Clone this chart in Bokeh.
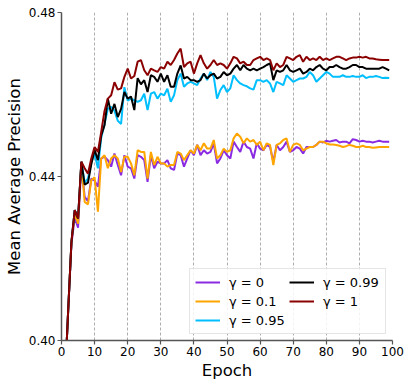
from bokeh.plotting import figure
from bokeh.models import FixedTicker, Legend, LegendItem, Range1d, PrintfTickFormatter
from bokeh.embed import file_html
from bokeh.resources import INLINE

epochs = list(range(1, 100))

gamma_0 = [0.3895, 0.4070, 0.4235, 0.4300, 0.4275, 0.4430, 0.4350, 0.4340, 0.4395, 0.4390,
           0.4375, 0.4444, 0.4448, 0.4440, 0.4424, 0.4456, 0.4428, 0.4403, 0.4452, 0.4424,
           0.4420, 0.4395, 0.4452, 0.4448, 0.4440, 0.4387, 0.4452, 0.4420, 0.4436, 0.4432,
           0.4432, 0.4440, 0.4420, 0.4416, 0.4456, 0.4452, 0.4424, 0.4444, 0.4464, 0.4452,
           0.4477, 0.4452, 0.4464, 0.4456, 0.4460, 0.4481, 0.4432, 0.4444, 0.4464, 0.4452,
           0.4444, 0.4485, 0.4472, 0.4460, 0.4485, 0.4472, 0.4468, 0.4444, 0.4481, 0.4468,
           0.4464, 0.4477, 0.4472, 0.4436, 0.4477, 0.4464, 0.4472, 0.4485, 0.4460, 0.4464,
           0.4472, 0.4468, 0.4456, 0.4472, 0.4472, 0.4472, 0.4477, 0.4485, 0.4483, 0.4487,
           0.4485, 0.4487, 0.4489, 0.4483, 0.4485, 0.4485, 0.4481, 0.4491, 0.4489, 0.4485,
           0.4487, 0.4485, 0.4485, 0.4483, 0.4485, 0.4487, 0.4485, 0.4485, 0.4485]

gamma_01 = [0.3895, 0.4070, 0.4240, 0.4310, 0.4285, 0.4436, 0.4338, 0.4332, 0.4391, 0.4398,
            0.4314, 0.4444, 0.4452, 0.4420, 0.4444, 0.4452, 0.4444, 0.4411, 0.4448, 0.4448,
            0.4432, 0.4403, 0.4464, 0.4460, 0.4460, 0.4395, 0.4460, 0.4428, 0.4448, 0.4432,
            0.4432, 0.4424, 0.4428, 0.4428, 0.4460, 0.4456, 0.4440, 0.4452, 0.4464, 0.4456,
            0.4477, 0.4464, 0.4481, 0.4468, 0.4468, 0.4489, 0.4444, 0.4452, 0.4468, 0.4460,
            0.4464, 0.4493, 0.4505, 0.4497, 0.4481, 0.4493, 0.4485, 0.4489, 0.4477, 0.4485,
            0.4464, 0.4481, 0.4477, 0.4428, 0.4477, 0.4481, 0.4489, 0.4493, 0.4460, 0.4477,
            0.4481, 0.4477, 0.4464, 0.4468, 0.4472, 0.4472, 0.4477, 0.4485, 0.4485, 0.4481,
            0.4478, 0.4478, 0.4477, 0.4475, 0.4472, 0.4474, 0.4477, 0.4475, 0.4472, 0.4472,
            0.4475, 0.4472, 0.4472, 0.4470, 0.4471, 0.4472, 0.4472, 0.4472, 0.4472]

gamma_095 = [0.3895, 0.4070, 0.4240, 0.4318, 0.4298, 0.4436, 0.4385, 0.4395, 0.4435, 0.4455,
             0.4420, 0.4495, 0.4528, 0.4565, 0.4570, 0.4560, 0.4536, 0.4528, 0.4618, 0.4585,
             0.4590, 0.4586, 0.4582, 0.4586, 0.4602, 0.4562, 0.4602, 0.4606, 0.4590, 0.4602,
             0.4598, 0.4614, 0.4582, 0.4598, 0.4635, 0.4651, 0.4619, 0.4627, 0.4631, 0.4627,
             0.4623, 0.4639, 0.4651, 0.4635, 0.4655, 0.4643, 0.4590, 0.4611, 0.4623, 0.4606,
             0.4615, 0.4647, 0.4635, 0.4627, 0.4623, 0.4620, 0.4615, 0.4612, 0.4635, 0.4635,
             0.4631, 0.4635, 0.4627, 0.4606, 0.4631, 0.4627, 0.4623, 0.4647, 0.4639, 0.4631,
             0.4635, 0.4639, 0.4639, 0.4643, 0.4655, 0.4647, 0.4631, 0.4639, 0.4647, 0.4655,
             0.4651, 0.4643, 0.4643, 0.4643, 0.4647, 0.4643, 0.4643, 0.4645, 0.4643, 0.4643,
             0.4647, 0.4640, 0.4643, 0.4643, 0.4645, 0.4643, 0.4640, 0.4641, 0.4640]

gamma_099 = [0.3895, 0.4070, 0.4240, 0.4318, 0.4298, 0.4436, 0.4380, 0.4385, 0.4430, 0.4465,
             0.4440, 0.4500, 0.4525, 0.4590, 0.4553, 0.4577, 0.4545, 0.4565, 0.4606, 0.4590,
             0.4595, 0.4562, 0.4640, 0.4625, 0.4635, 0.4606, 0.4647, 0.4643, 0.4631, 0.4651,
             0.4631, 0.4647, 0.4619, 0.4619, 0.4651, 0.4671, 0.4639, 0.4643, 0.4635, 0.4635,
             0.4631, 0.4635, 0.4651, 0.4639, 0.4647, 0.4651, 0.4639, 0.4643, 0.4655, 0.4647,
             0.4651, 0.4663, 0.4672, 0.4659, 0.4672, 0.4663, 0.4659, 0.4663, 0.4659, 0.4663,
             0.4667, 0.4672, 0.4676, 0.4635, 0.4659, 0.4655, 0.4659, 0.4672, 0.4659, 0.4655,
             0.4659, 0.4663, 0.4651, 0.4655, 0.4663, 0.4659, 0.4667, 0.4672, 0.4663, 0.4659,
             0.4667, 0.4667, 0.4672, 0.4667, 0.4663, 0.4663, 0.4667, 0.4672, 0.4672, 0.4667,
             0.4667, 0.4663, 0.4663, 0.4663, 0.4663, 0.4663, 0.4667, 0.4663, 0.4659]

gamma_1 = [0.3895, 0.4070, 0.4240, 0.4318, 0.4298, 0.4436, 0.4420, 0.4407, 0.4444, 0.4472,
           0.4460, 0.4509, 0.4560, 0.4590, 0.4598, 0.4630, 0.4612, 0.4615, 0.4643, 0.4663,
           0.4639, 0.4645, 0.4680, 0.4684, 0.4659, 0.4647, 0.4663, 0.4659, 0.4655, 0.4667,
           0.4663, 0.4680, 0.4672, 0.4684, 0.4700, 0.4712, 0.4667, 0.4676, 0.4680, 0.4651,
           0.4676, 0.4696, 0.4676, 0.4663, 0.4672, 0.4684, 0.4672, 0.4676, 0.4672, 0.4663,
           0.4676, 0.4692, 0.4688, 0.4676, 0.4680, 0.4672, 0.4672, 0.4684, 0.4688, 0.4692,
           0.4684, 0.4688, 0.4684, 0.4659, 0.4676, 0.4667, 0.4672, 0.4692, 0.4688, 0.4684,
           0.4692, 0.4696, 0.4680, 0.4692, 0.4684, 0.4688, 0.4684, 0.4692, 0.4684, 0.4688,
           0.4684, 0.4688, 0.4692, 0.4692, 0.4688, 0.4684, 0.4688, 0.4690, 0.4690, 0.4692,
           0.4690, 0.4692, 0.4688, 0.4688, 0.4686, 0.4685, 0.4684, 0.4684, 0.4684]

labels = ["γ = 0", "γ = 0.1", "γ = 0.95", "γ = 0.99", "γ = 1"]
colors = ["#8A2BE2", "#FFA500", "#00BFFF", "#000000", "#8B0000"]
series = [gamma_0, gamma_01, gamma_095, gamma_099, gamma_1]

x_ticks = list(range(0, 101, 10))
y_ticks = [0.40, 0.44, 0.48]

FONT = "DejaVu Sans"

p = figure(frame_width=331, frame_height=328, output_backend="svg", toolbar_location=None,
           x_range=Range1d(0, 100), y_range=Range1d(0.40, 0.48),
           min_border_left=61, min_border_right=12, min_border_top=12, min_border_bottom=41)
p.outline_line_color = None
p.background_fill_color = "white"
p.border_fill_color = "white"

items = []
for ys, lab, col in zip(series, labels, colors):
    r = p.line(epochs, ys, line_color=col, line_width=2)
    items.append(LegendItem(label=lab, renderers=[r]))

for ax in (p.xaxis[0], p.yaxis[0]):
    ax.axis_line_color = "#555555"
    ax.axis_line_width = 1.5
    ax.major_tick_line_color = "#555555"
    ax.major_tick_line_width = 1.2
    ax.major_tick_out = 4
    ax.major_tick_in = 0
    ax.minor_tick_line_color = None
    ax.major_label_text_font = FONT
    ax.major_label_text_font_size = "12px"
    ax.major_label_text_color = "black"
    ax.axis_label_text_font = FONT
    ax.axis_label_text_font_size = "16.5px"
    ax.axis_label_text_font_style = "normal"
    ax.axis_label_text_color = "black"

p.xaxis.ticker = FixedTicker(ticks=x_ticks)
p.yaxis.ticker = FixedTicker(ticks=y_ticks)
p.yaxis.formatter = PrintfTickFormatter(format="%.2f")
p.xaxis.axis_label = "Epoch"
p.yaxis.axis_label = "Mean Average Precision"
p.xaxis.major_label_standoff = 2
p.yaxis.major_label_standoff = 2
p.xaxis.axis_label_standoff = 2
p.yaxis.axis_label_standoff = 2

p.ygrid.grid_line_color = None
p.xgrid.grid_line_color = "#999999"
p.xgrid.grid_line_width = 0.8
p.xgrid.grid_line_dash = "3 2"

legend = Legend(items=items, location="bottom_right", nrows=3, orientation="vertical")
legend.label_text_font = FONT
legend.label_text_font_size = "13px"
legend.label_text_color = "black"
legend.glyph_width = 25
legend.glyph_height = 16
legend.label_width = 57
legend.spacing = 3
legend.margin = 6
legend.padding = 5
legend.border_line_color = "#cccccc"
legend.border_line_width = 1
legend.background_fill_alpha = 0.85
legend.label_standoff = 9
p.add_layout(legend, "center")

open("out.html", "w").write(file_html(p, INLINE))
